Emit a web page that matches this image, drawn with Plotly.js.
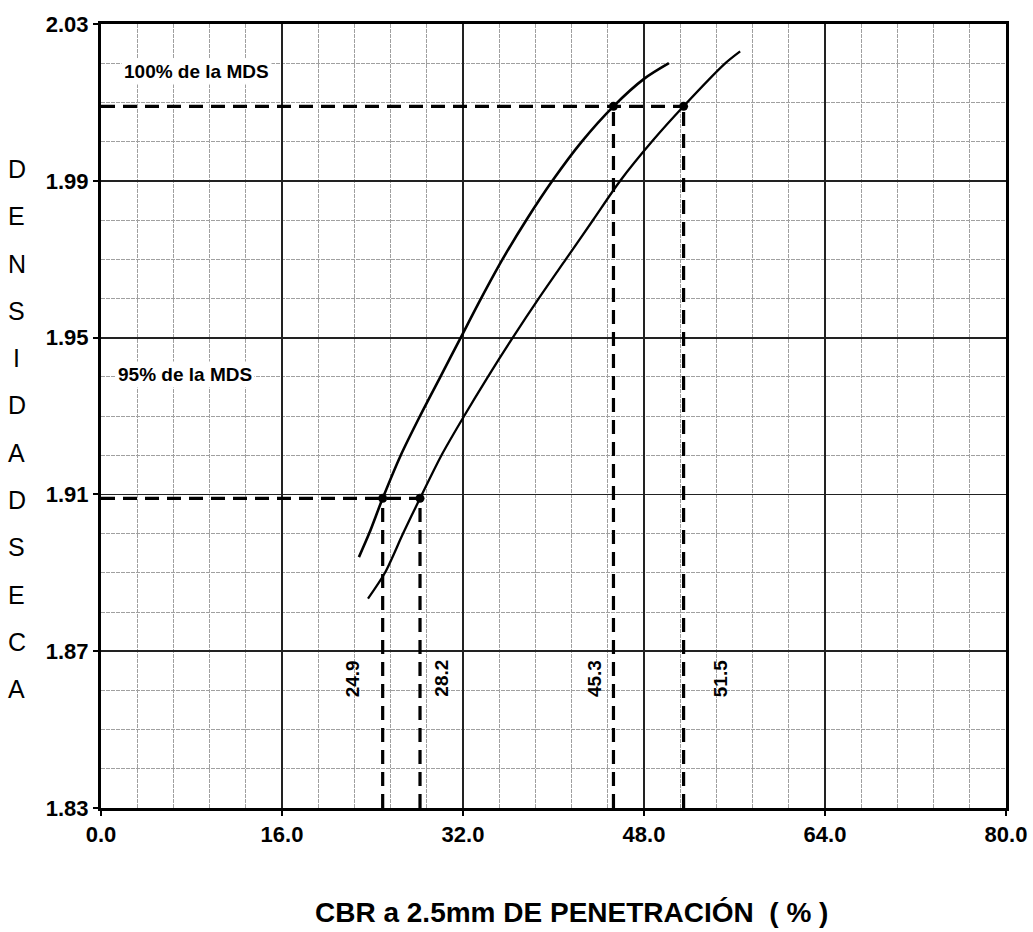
<!DOCTYPE html>
<html>
<head>
<meta charset="utf-8">
<script src="https://cdn.plot.ly/plotly-3.0.1.min.js"></script>
<style>html,body{margin:0;padding:0;background:#fff;}#chart{width:1033px;height:932px;}</style>
</head>
<body>
<div id="chart"></div>
<script>
// ---- data ----
const xTickVals = [0, 16, 32, 48, 64, 80];
const yTickVals = [1.83, 1.87, 1.91, 1.95, 1.99, 2.03];

// left (steeper) curve
const curveA_x = [22.8, 23.7, 24.9, 26.5, 28.2, 30.0, 31.8, 33.6, 35.5, 37.6, 39.9, 42.5, 45.3, 48.0, 50.2];
const curveA_y = [1.894, 1.900, 1.909, 1.920, 1.930, 1.940, 1.950, 1.960, 1.970, 1.980, 1.990, 2.000, 2.009, 2.016, 2.020];

// right curve
const curveB_x = [23.6, 25.1, 26.7, 28.2, 30.1, 32.1, 34.2, 36.4, 38.7, 41.1, 43.5, 45.9, 48.7, 51.5, 55.2, 56.5];
const curveB_y = [1.8834, 1.890, 1.900, 1.909, 1.920, 1.930, 1.940, 1.950, 1.960, 1.970, 1.980, 1.990, 2.000, 2.009, 2.020, 2.023];

const mds100 = 2.009;   // 100% de la MDS
const mds95 = 1.909;    // 95% de la MDS
const cbrValues = [24.9, 28.2, 45.3, 51.5];
const cbrLevels = [mds95, mds95, mds100, mds100];
const cbrLabels = ['24.9', '28.2', '45.3', '51.5'];
const label100 = '100% de la MDS';
const label95 = '95% de la MDS';
const xTitle = 'CBR a 2.5mm DE PENETRACIÓN  ( % )';
const yTitle = 'DENSIDAD SECA';

// ---- build traces ----
const yMin = yTickVals[0], yMax = yTickVals[yTickVals.length - 1];
const xMin = xTickVals[0], xMax = xTickVals[xTickVals.length - 1];

const guideX = [], guideY = [];
guideX.push(xMin, cbrValues[3], null); guideY.push(mds100, mds100, null);
guideX.push(xMin, cbrValues[1], null); guideY.push(mds95, mds95, null);
cbrValues.forEach((v, i) => { guideX.push(v, v, null); guideY.push(yMin, cbrLevels[i], null); });

const traces = [
  {x: guideX, y: guideY, mode: 'lines', line: {color: '#000', width: 3.2, dash: '14px,8px'}, hoverinfo: 'skip', showlegend: false},
  {x: curveA_x, y: curveA_y, mode: 'lines', line: {color: '#000', width: 2.6, shape: 'spline', smoothing: 0.8}, showlegend: false},
  {x: curveB_x, y: curveB_y, mode: 'lines', line: {color: '#000', width: 2.3, shape: 'spline', smoothing: 0.8}, showlegend: false},
  {x: cbrValues, y: cbrLevels, mode: 'markers', marker: {color: '#000', size: 9}, showlegend: false}
];

const boldFont = {family: 'Liberation Sans, Arial, sans-serif', weight: 700, color: '#000'};

const annotations = [];
annotations.push({x: 1.8, y: 2.018, xref: 'x', yref: 'y', text: label100, showarrow: false, xanchor: 'left', yanchor: 'middle',
  font: Object.assign({}, boldFont, {size: 19}), bgcolor: '#fff', borderpad: 2});
annotations.push({x: 1.2, y: 1.9405, xref: 'x', yref: 'y', text: label95, showarrow: false, xanchor: 'left', yanchor: 'middle',
  font: Object.assign({}, boldFont, {size: 19}), bgcolor: '#fff', borderpad: 2});
const labelShift = [-30, 22, -19, 37];
cbrLabels.forEach((t, i) => {
  annotations.push({x: cbrValues[i], y: 1.863, xref: 'x', yref: 'y', text: t, showarrow: false, textangle: -90,
    xshift: labelShift[i], font: Object.assign({}, boldFont, {size: 19})});
});
// stacked vertical y-axis title
const letters = yTitle.replace(/\s+/g, '').split('');
const plotTop = 24, plotH = 784;
letters.forEach((ch, i) => {
  const py = 169 + i * 47.3;
  annotations.push({x: -0.093, y: 1 - (py - plotTop) / plotH, xref: 'paper', yref: 'paper', text: ch, showarrow: false,
    xanchor: 'center', yanchor: 'middle', font: {family: 'Liberation Sans, Arial, sans-serif', size: 25, color: '#000'}});
});
// x axis title
annotations.push({x: 0.52, y: -0.133, xref: 'paper', yref: 'paper', text: xTitle, showarrow: false, xanchor: 'center', yanchor: 'middle',
  font: Object.assign({}, boldFont, {size: 28})});

const layout = {
  width: 1033, height: 932,
  margin: {l: 101, r: 27, t: 24, b: 124},
  paper_bgcolor: '#fff', plot_bgcolor: '#fff',
  showlegend: false,
  xaxis: {
    range: [xMin, xMax], tickvals: xTickVals, tickformat: '.1f',
    tickfont: Object.assign({}, boldFont, {size: 22}),
    showgrid: true, gridcolor: '#222', gridwidth: 1.8,
    showline: true, linecolor: '#000', linewidth: 3, mirror: true,
    ticks: 'outside', ticklen: 5, tickwidth: 2, tickcolor: '#000',
    zeroline: false,
    minor: {dtick: 3.2, tick0: 0, showgrid: true, gridcolor: '#a0a0a0', gridwidth: 1, griddash: '4px,1px', ticks: ''}
  },
  yaxis: {
    range: [yMin, yMax], tickvals: yTickVals, tickformat: '.2f',
    tickfont: Object.assign({}, boldFont, {size: 22}),
    showgrid: true, gridcolor: '#222', gridwidth: 1.8,
    showline: true, linecolor: '#000', linewidth: 3, mirror: true,
    ticks: 'outside', ticklen: 5, tickwidth: 2, tickcolor: '#000',
    zeroline: false,
    minor: {dtick: 0.01, tick0: 1.83, showgrid: true, gridcolor: '#a0a0a0', gridwidth: 1, griddash: '4px,1px', ticks: ''}
  },
  annotations: annotations
};

Plotly.newPlot('chart', traces, layout, {displayModeBar: false, staticPlot: true});
</script>
</body>
</html>
